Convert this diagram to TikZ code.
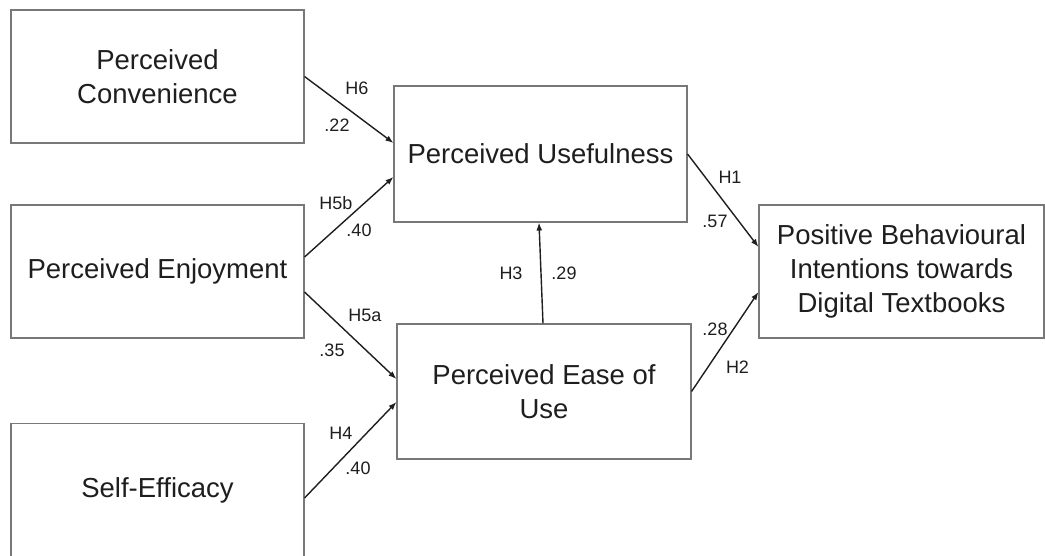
\documentclass[tikz,border=0pt]{standalone}
\usepackage{fontspec}
\setmainfont{Liberation Sans}
\usetikzlibrary{arrows.meta,calc}
\definecolor{boxgray}{RGB}{120,120,120}
\definecolor{inkgray}{RGB}{30,30,30}
\tikzset{
  construct/.style={draw=boxgray, line width=0.55pt, text=inkgray, inner sep=0pt,
    font=\fontsize{13.75}{17}\selectfont, align=center, minimum width=146.5pt, minimum height=66.5pt},
  hyp/.style={-{Latex[length=4pt,width=3pt]}, inkgray, line width=0.7pt},
  coef/.style={text=inkgray, inner sep=0pt, font=\fontsize{9}{10}\selectfont},
}

\begin{document}
\begin{tikzpicture}[x=0.5pt, y=-0.5pt]
  \useasboundingbox (0,0) rectangle (1045,556);
  \clip (0,0) rectangle (1045,556);
  % constructs
  \node[construct] (conv) at (157.5,76.5) {Perceived\\Convenience};
  \node[construct] (enjoy) at (157.5,271.5) {Perceived Enjoyment};
  \node[construct] (self) at (157.5,490) {Self-Efficacy};
  \node[construct, minimum height=68pt] (useful) at (540.5,154) {Perceived Usefulness};
  \node[construct, minimum width=147pt, minimum height=67.5pt] (ease) at (544,391.5) {Perceived Ease of\\Use};
  \node[construct, minimum width=142.5pt] (pbi) at (901.5,271.5) {Positive Behavioural\\Intentions towards\\Digital Textbooks};
  % hypotheses
  \draw[hyp] (conv.east) -- ($(useful.west)+(0,-11)$);
  \draw[hyp] ($(enjoy.east)+(0,-14.5)$) -- ($(useful.west)+(0,23)$);
  \draw[hyp] ($(enjoy.east)+(0,20.5)$) -- ($(ease.west)+(0,-12.5)$);
  \draw[hyp] ($(self.east)+(0,8)$) -- ($(ease.west)+(0,10.5)$);
  \draw[hyp] ($(ease.north)+(-1,0)$) -- ($(useful.south)+(-1.5,0)$);
  \draw[hyp] (useful.east) -- ($(pbi.west)+(0,-24.5)$);
  \draw[hyp] (ease.east) -- ($(pbi.west)+(0,20.5)$);
  % labels
  \node[coef] (h6) at (357,88) {H6};
  \node[coef] (b6) at (337,125) {.22};
  \node[coef] (h5b) at (336,203) {H5b};
  \node[coef] (b5b) at (359,230) {.40};
  \node[coef] (h5a) at (365,315) {H5a};
  \node[coef] (b5a) at (332,350) {.35};
  \node[coef] (h4) at (341,433) {H4};
  \node[coef] (b4) at (358,468) {.40};
  \node[coef] (h3) at (511,273) {H3};
  \node[coef] (b3) at (564,273) {.29};
  \node[coef] (h1) at (730,177.5) {H1};
  \node[coef] (b1) at (715,221) {.57};
  \node[coef] (b2) at (715,329) {.28};
  \node[coef] (h2) at (737.5,367) {H2};
\end{tikzpicture}
\end{document}
